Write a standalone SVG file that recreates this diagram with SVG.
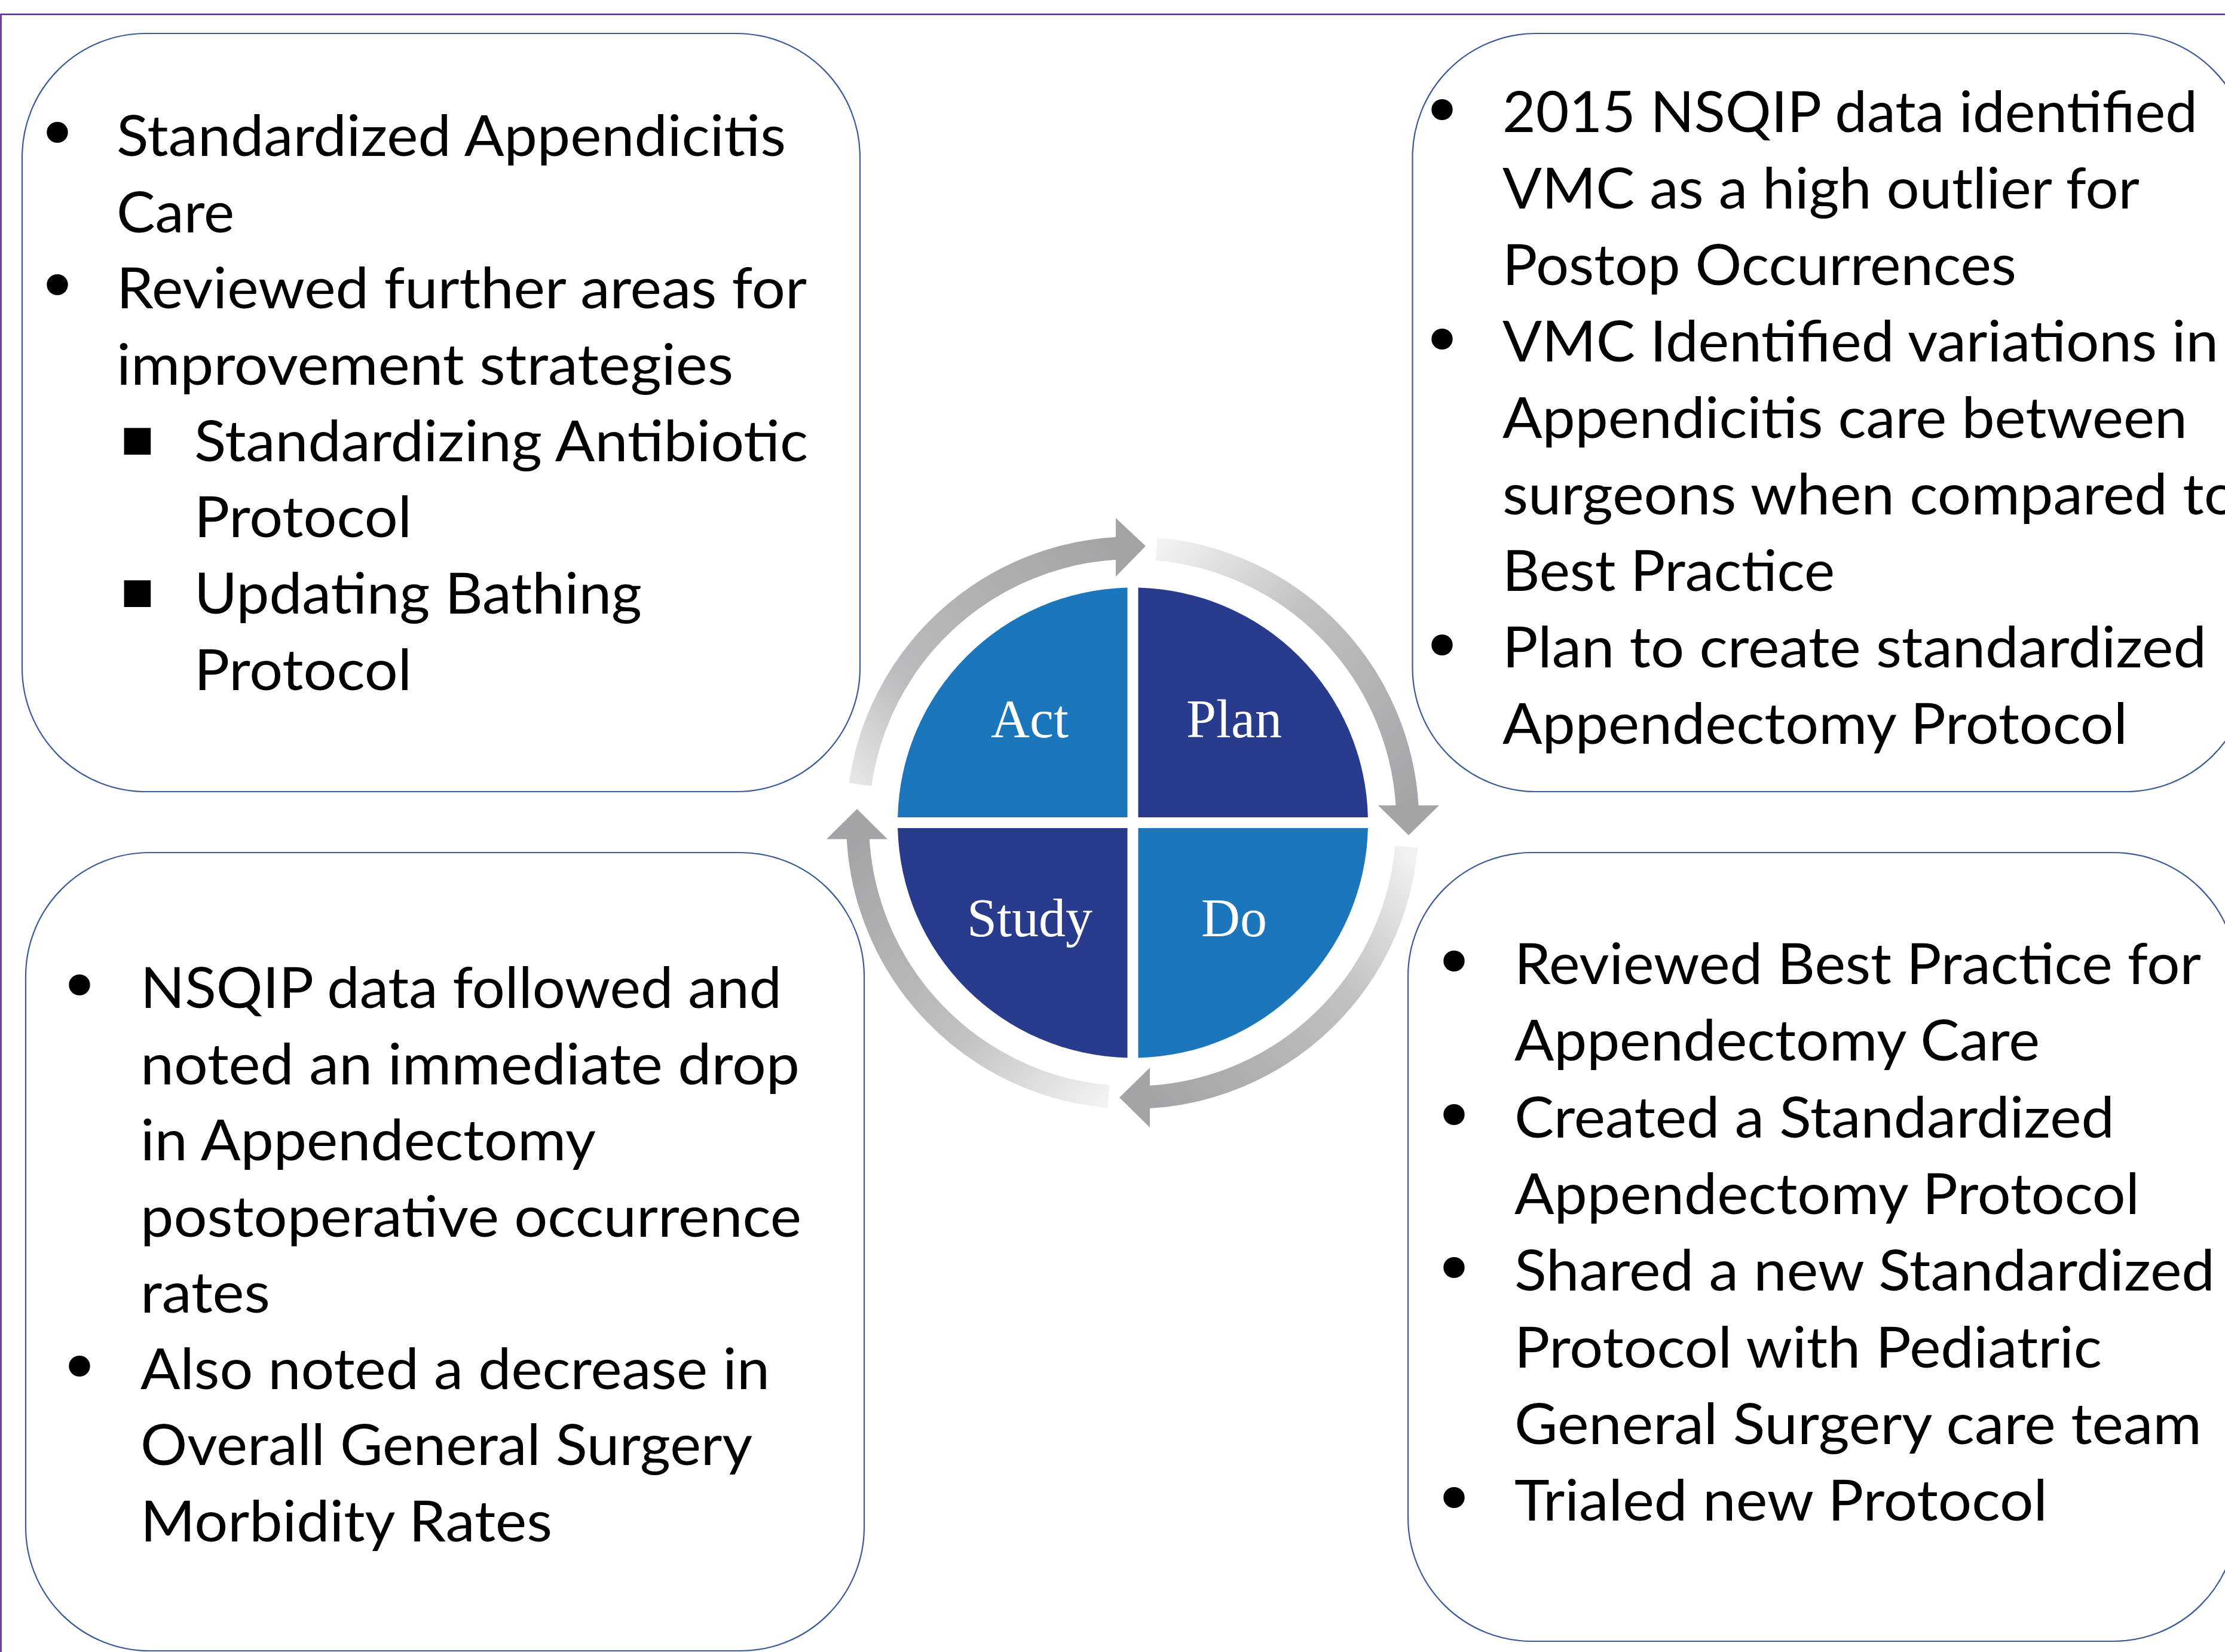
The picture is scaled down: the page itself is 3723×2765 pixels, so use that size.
<svg xmlns="http://www.w3.org/2000/svg" width="3723" height="2765" viewBox="0 0 3723 2765">
  <style>
    .box { fill: #ffffff; stroke: #3a5a9c; stroke-width: 2.2; }
    .t { font-family: "Lato", "Liberation Sans", sans-serif; font-size: 95px; fill: #000000; }
    .b { font-family: "DejaVu Sans", sans-serif; font-size: 122px; fill: #000000; text-anchor: middle; }
    .sq { font-family: "DejaVu Sans", sans-serif; font-size: 90px; fill: #000000; text-anchor: middle; }
    .lbl { font-family: "Liberation Serif", "Times New Roman", serif; font-size: 90px; fill: #ffffff; text-anchor: middle; }
    .light { fill: #1b76bb; }
    .dark { fill: #293b8d; }
    .arc { fill: none; stroke-width: 38; }
    .head { fill: #a2a4a7; }
  </style>
  <defs>
    <linearGradient id="gTop" gradientUnits="userSpaceOnUse" x1="1439.5" y1="1313" x2="1867" y2="918">
      <stop offset="0" stop-color="#e4e5e6"/>
      <stop offset="0.3" stop-color="#b9bbbe"/>
      <stop offset="1" stop-color="#a2a4a7"/>
    </linearGradient>
    <linearGradient id="gRight" gradientUnits="userSpaceOnUse" x1="1935" y1="919" x2="2354" y2="1350">
      <stop offset="0" stop-color="#f2f2f3"/>
      <stop offset="0.4" stop-color="#bfc1c3"/>
      <stop offset="1" stop-color="#a2a4a7"/>
    </linearGradient>
    <linearGradient id="gBottom" gradientUnits="userSpaceOnUse" x1="2353" y1="1417" x2="1921" y2="1836">
      <stop offset="0" stop-color="#f2f2f3"/>
      <stop offset="0.4" stop-color="#bfc1c3"/>
      <stop offset="1" stop-color="#a2a4a7"/>
    </linearGradient>
    <linearGradient id="gLeft" gradientUnits="userSpaceOnUse" x1="1855" y1="1835" x2="1436" y2="1403">
      <stop offset="0" stop-color="#f2f2f3"/>
      <stop offset="0.4" stop-color="#bfc1c3"/>
      <stop offset="1" stop-color="#a2a4a7"/>
    </linearGradient>
  </defs>

  <rect width="3723" height="2765" fill="#ffffff"/>

  <!-- slide frame -->
  <rect id="frame" x="1.5" y="24" width="3800" height="2800" fill="none" stroke="#5b2a86" stroke-width="2.6"/>

  <!-- Act box (top left) -->
  <g id="act-box">
    <rect class="box" x="37" y="56" width="1402" height="1269" rx="207" ry="207"/>
    <text class="b" x="96" y="267">•</text>
    <text class="t" x="195" y="261" textLength="1120" lengthAdjust="spacingAndGlyphs">Standardized Appendicitis</text>
    <text class="t" x="195" y="389" textLength="197" lengthAdjust="spacingAndGlyphs">Care</text>
    <text class="b" x="96" y="522">•</text>
    <text class="t" x="195" y="516" textLength="1155" lengthAdjust="spacingAndGlyphs">Reviewed further areas for</text>
    <text class="t" x="195" y="644" textLength="1032" lengthAdjust="spacingAndGlyphs">improvement strategies</text>
    <text class="sq" x="230" y="762">▪</text>
    <text class="t" x="325" y="772" textLength="1027" lengthAdjust="spacingAndGlyphs">Standardizing Antibiotic</text>
    <text class="t" x="325" y="899" textLength="364" lengthAdjust="spacingAndGlyphs">Protocol</text>
    <text class="sq" x="230" y="1017">▪</text>
    <text class="t" x="325" y="1027" textLength="749" lengthAdjust="spacingAndGlyphs">Updating Bathing</text>
    <text class="t" x="325" y="1155" textLength="364" lengthAdjust="spacingAndGlyphs">Protocol</text>
  </g>

  <!-- Plan box (top right) -->
  <g id="plan-box">
    <rect class="box" x="2363.5" y="56" width="1400" height="1269" rx="207" ry="207"/>
    <text class="b" x="2413" y="229">•</text>
    <text class="t" x="2514" y="221" textLength="1163" lengthAdjust="spacingAndGlyphs">2015 NSQIP data identified</text>
    <text class="t" x="2514" y="349" textLength="1066" lengthAdjust="spacingAndGlyphs">VMC as a high outlier for</text>
    <text class="t" x="2514" y="477" textLength="860" lengthAdjust="spacingAndGlyphs">Postop Occurrences</text>
    <text class="b" x="2413" y="613">•</text>
    <text class="t" x="2514" y="605" textLength="1198" lengthAdjust="spacingAndGlyphs">VMC Identified variations in</text>
    <text class="t" x="2514" y="733" textLength="1146" lengthAdjust="spacingAndGlyphs">Appendicitis care between</text>
    <text class="t" x="2514" y="861" textLength="1230" lengthAdjust="spacingAndGlyphs">surgeons when compared to</text>
    <text class="t" x="2514" y="989" textLength="556" lengthAdjust="spacingAndGlyphs">Best Practice</text>
    <text class="b" x="2413" y="1125">•</text>
    <text class="t" x="2514" y="1117" textLength="1178" lengthAdjust="spacingAndGlyphs">Plan to create standardized</text>
    <text class="t" x="2514" y="1245" textLength="1046" lengthAdjust="spacingAndGlyphs">Appendectomy Protocol</text>
  </g>

  <!-- Study box (bottom left) -->
  <g id="study-box">
    <rect class="box" x="43" y="1427" width="1403" height="1336" rx="207" ry="207"/>
    <text class="b" x="133" y="1694">•</text>
    <text class="t" x="235" y="1687" textLength="1073" lengthAdjust="spacingAndGlyphs">NSQIP data followed and</text>
    <text class="t" x="235" y="1815" textLength="1103" lengthAdjust="spacingAndGlyphs">noted an immediate drop</text>
    <text class="t" x="235" y="1942" textLength="762" lengthAdjust="spacingAndGlyphs">in Appendectomy</text>
    <text class="t" x="235" y="2070" textLength="1106" lengthAdjust="spacingAndGlyphs">postoperative occurrence</text>
    <text class="t" x="235" y="2197" textLength="217" lengthAdjust="spacingAndGlyphs">rates</text>
    <text class="b" x="133" y="2332">•</text>
    <text class="t" x="235" y="2325" textLength="1053" lengthAdjust="spacingAndGlyphs">Also noted a decrease in</text>
    <text class="t" x="235" y="2452" textLength="1024" lengthAdjust="spacingAndGlyphs">Overall General Surgery</text>
    <text class="t" x="235" y="2580" textLength="689" lengthAdjust="spacingAndGlyphs">Morbidity Rates</text>
  </g>

  <!-- Do box (bottom right) -->
  <g id="do-box">
    <rect class="box" x="2356" y="1427" width="1387" height="1320" rx="207" ry="207"/>
    <text class="b" x="2433" y="1654">•</text>
    <text class="t" x="2534" y="1647" textLength="1149" lengthAdjust="spacingAndGlyphs">Reviewed Best Practice for</text>
    <text class="t" x="2534" y="1775" textLength="879" lengthAdjust="spacingAndGlyphs">Appendectomy Care</text>
    <text class="b" x="2433" y="1911">•</text>
    <text class="t" x="2534" y="1904" textLength="1004" lengthAdjust="spacingAndGlyphs">Created a Standardized</text>
    <text class="t" x="2534" y="2032" textLength="1046" lengthAdjust="spacingAndGlyphs">Appendectomy Protocol</text>
    <text class="b" x="2433" y="2167">•</text>
    <text class="t" x="2534" y="2160" textLength="1172" lengthAdjust="spacingAndGlyphs">Shared a new Standardized</text>
    <text class="t" x="2534" y="2289" textLength="983" lengthAdjust="spacingAndGlyphs">Protocol with Pediatric</text>
    <text class="t" x="2534" y="2417" textLength="1150" lengthAdjust="spacingAndGlyphs">General Surgery care team</text>
    <text class="b" x="2433" y="2552">•</text>
    <text class="t" x="2534" y="2545" textLength="892" lengthAdjust="spacingAndGlyphs">Trialed new Protocol</text>
  </g>

  <!-- PDSA wheel -->
  <g id="pdsa-wheel">
    <g id="quadrant-act">
      <path class="light" d="M1886.5,1368 L1886.5,983.6 A393.5,393.5 0 0 0 1502.1,1368 Z"/>
      <text class="lbl" x="1723" y="1234">Act</text>
    </g>
    <g id="quadrant-plan">
      <path class="dark" d="M1904.5,1368 L1904.5,983.6 A393.5,393.5 0 0 1 2288.9,1368 Z"/>
      <text class="lbl" x="2065" y="1234">Plan</text>
    </g>
    <g id="quadrant-do">
      <path class="light" d="M1904.5,1386 L2288.9,1386 A393.5,393.5 0 0 1 1904.5,1770.4 Z"/>
      <text class="lbl" x="2065" y="1567">Do</text>
    </g>
    <g id="quadrant-study">
      <path class="dark" d="M1886.5,1386 L1886.5,1770.4 A393.5,393.5 0 0 1 1502.1,1386 Z"/>
      <text class="lbl" x="1723" y="1567">Study</text>
    </g>
  </g>

  <!-- cycle arrows around the wheel -->
  <g id="cycle-arrows">
    <path class="arc" stroke="url(#gTop)" d="M1439.5,1313 A460,460 0 0 1 1871,917.6"/>
    <polygon class="head" points="1867,867 1917,914 1867,965"/>
    <path class="arc" stroke="url(#gRight)" d="M1935.1,918.8 A460,460 0 0 1 2354.8,1352"/>
    <polygon class="head" points="2306,1348 2408,1348 2357,1398"/>
    <path class="arc" stroke="url(#gBottom)" d="M2353.2,1417.1 A460,460 0 0 1 1920,1836.3"/>
    <polygon class="head" points="1924,1787 1924,1887 1873,1837"/>
    <path class="arc" stroke="url(#gLeft)" d="M1854.9,1835.3 A460,460 0 0 1 1435.6,1401"/>
    <polygon class="head" points="1383,1404.6 1485,1404.6 1434,1354"/>
  </g>
</svg>
